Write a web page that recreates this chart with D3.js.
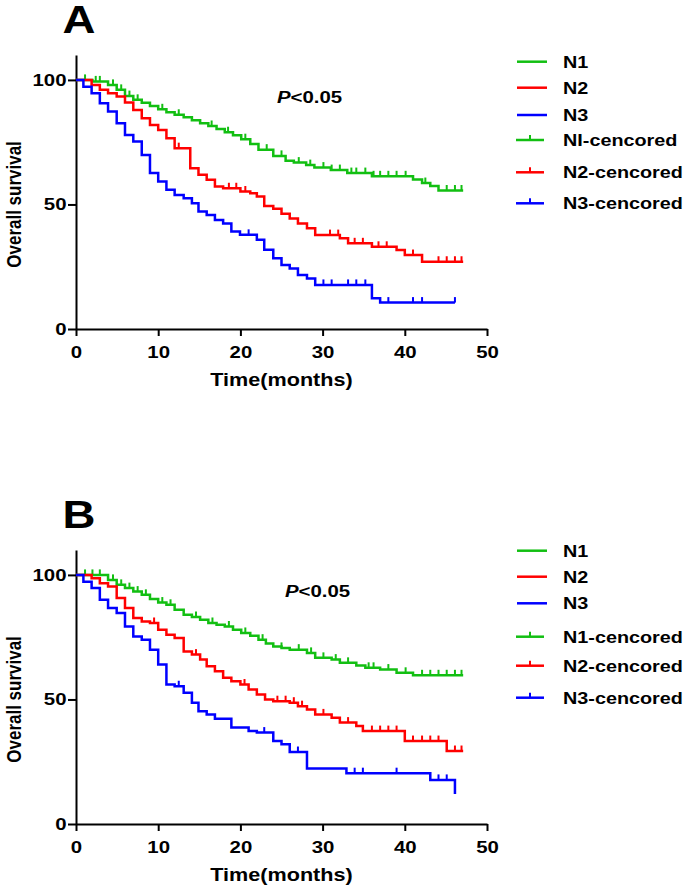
<!DOCTYPE html>
<html>
<head>
<meta charset="utf-8">
<script src="https://cdn.jsdelivr.net/npm/d3@7"></script>
<style>
  body { margin: 0; background: #fff; }
  svg { display: block; font-family: "Liberation Sans", Arial, sans-serif; font-weight: bold; }
</style>
</head>
<body>
<svg id="chart" width="685" height="891"></svg>
<script>
// 共通の設定
const colors = ["#12bf12", "#ff0000", "#0000ff"];
const xTicks = [0, 10, 20, 30, 40, 50];
const yTicks = [0, 50, 100];
const legendLabelsA = ["N1", "N2", "N3", "NI-cencored", "N2-cencored", "N3-cencored"];
const legendLabelsB = ["N1", "N2", "N3", "N1-cencored", "N2-cencored", "N3-cencored"];

// パネルA：時間(月)と生存率(%)、打ち切り時点
const timeA1 = [0, 2, 3.9, 4.95, 5.96, 6.97, 8, 9, 10, 11, 12, 13.1, 14.1, 15.1, 16.1, 17.1, 18.1, 19.1, 20.1, 21.2, 22.2, 24, 25.5, 26.5, 28, 29, 31, 33, 36, 41, 42.1, 43.1, 44.1];
const survA1 = [100, 99.4, 98, 96, 93.5, 92, 90.8, 89.5, 88.2, 87, 86, 85, 83.8, 82.6, 81.5, 80.3, 79, 77.8, 76.2, 74.3, 72, 69.5, 67.5, 66.8, 65.8, 64.8, 63.8, 62.6, 61.3, 60, 58.6, 57.4, 55.6];
const censA1 = [1.1, 2.4, 2.9, 4.5, 5.5, 6.5, 7.5, 10.5, 12.5, 16.5, 18.5, 20.6, 23.2, 25, 27.1, 28.5, 30.1, 31.1, 32.1, 33.5, 34.1, 35.2, 36.2, 37, 38, 39, 40.1, 42.5, 45.1, 46.1, 46.9];

const timeA2 = [0, 1.9, 2.9, 3.9, 4.95, 5.96, 6.97, 8, 9, 10, 11, 12, 13.9, 14.9, 15.9, 16.9, 17.9, 20, 21.2, 22, 22.9, 24, 25, 26, 27, 28.1, 29.1, 32.1, 33.1, 36, 39, 40, 42.1];
const survA2 = [100, 98, 96, 94.6, 93.3, 90.9, 87.9, 84.6, 81.9, 79.9, 76.6, 72.6, 64.5, 61.9, 59.9, 57.2, 56.5, 55.2, 54.5, 53.2, 49.4, 48.3, 46.3, 44.4, 42.4, 40.4, 37.7, 36.4, 34.4, 33, 31.7, 29.7, 27];
const censA2 = [12.5, 18.6, 19.5, 20.6, 30.9, 31.9, 33.9, 34.9, 36.8, 37.8, 41, 44.1, 45.1, 46.1, 46.9];

const timeA3 = [0, 0.9, 1.9, 2.9, 3.9, 4.95, 5.96, 6.97, 8, 9, 10, 11, 12, 13.1, 14.1, 14.9, 15.9, 16.9, 17.9, 18.9, 19.95, 22, 22.9, 24, 25, 26, 27, 28.1, 29.1, 36, 37];
const survA3 = [100, 97.3, 94.6, 90.6, 87.3, 82.6, 77.9, 75.3, 69.9, 62.6, 59.2, 55.9, 53.8, 52.5, 50.5, 47.2, 45.8, 43.8, 42.4, 39.1, 37.8, 35.8, 31.8, 28.4, 25.7, 24.3, 21.7, 20.3, 17.7, 12.3, 10.6];
const censA3 = [21, 30.1, 31.1, 33.1, 34.1, 35.2, 38, 41, 42.1, 46.1];
const endA = [47.1, 47.1, 46.1];

// パネルB
const timeB1 = [0, 3.9, 4.95, 5.96, 6.97, 8, 9, 10, 11, 12, 13.1, 14.1, 15.1, 16.1, 17.1, 18.1, 19.1, 20.1, 21.2, 22.2, 23.1, 24, 25, 26, 28.1, 29.1, 31.1, 32.1, 34.1, 35.2, 37, 39, 41];
const survB1 = [100, 98, 96, 94.7, 93.3, 92, 90.3, 88.9, 88, 86, 84, 83.1, 82, 80.7, 80, 79.3, 78, 76.7, 75.6, 74, 72.5, 71.3, 70.7, 70, 68.7, 66.7, 66, 64.7, 63.6, 62.7, 62, 60.7, 59.7];
const censB1 = [1.1, 2.0, 2.9, 4.5, 5.5, 6.5, 7.5, 8.5, 10.5, 11.5, 14.6, 16.6, 18.6, 20.6, 22.7, 25.0, 27.1, 28.6, 30.1, 31.6, 33.1, 35.6, 36.2, 38, 40.1, 42.1, 43.1, 44.1, 45.1, 46.1, 46.9];

const timeB2 = [0, 1.9, 2.9, 3.9, 4.95, 5.96, 6.97, 8, 9, 10, 11, 12, 13.1, 14.1, 15.1, 15.9, 16.9, 17.9, 18.9, 20, 21, 22, 23, 24, 26, 27, 28.1, 29.1, 31.1, 32.1, 34.1, 34.9, 40, 45.1];
const survB2 = [100, 98.7, 96.7, 95.3, 90.7, 86.7, 82.7, 81.3, 80.7, 78, 76, 74.7, 69.3, 68, 66, 63.3, 61.3, 58.7, 57.3, 56, 54, 52, 50, 49.3, 48.7, 47.3, 46, 44, 42.7, 40.7, 39.3, 37.3, 33.3, 29.3];
const censB2 = [9.5, 14.6, 20.5, 24.5, 25.5, 26.5, 27.5, 30.1, 33.1, 36, 37, 38, 39, 41, 42.1, 43.1, 44.1, 46.1, 46.9];

const timeB3 = [0, 0.9, 1.9, 2.9, 3.9, 4.95, 5.96, 6.97, 8, 9, 10, 11, 12, 13.1, 14.1, 14.9, 15.9, 16.9, 18.9, 21, 22, 24, 25, 26, 28.1, 32.9, 43.1, 46.1];
const survB3 = [100, 97.3, 94.7, 90, 86.7, 84.7, 79.3, 75.3, 74, 70, 64, 56, 55.3, 52.7, 48.7, 45.3, 44, 42.3, 38.7, 37.3, 36.7, 33.3, 32, 28.9, 22.3, 20.4, 17.7, 12];
const censB3 = [12.5, 22.9, 27.0, 33.9, 34.9, 39.0, 44.1, 45.1];
const endB = [47.1, 47.1, 46.1];

// 文字は元図に合わせて横に少し引き伸ばす
const SX = 1.2;
const svg = d3.select("#chart");

// ある時点での生存率（階段関数）
function survAt(times, surv, t) {
  let s = surv[0];
  times.forEach((tt, i) => { if (tt <= t) s = surv[i]; });
  return s;
}

function drawPanel(top, label, legendLabels, legendYs, pPos, series) {
  const g = svg.append("g");
  const x = d3.scaleLinear().domain([0, 50]).range([76, 487]);
  const y = d3.scaleLinear().domain([0, 110]).range([top + 274, top]);

  // 軸
  const xAxis = g.append("g")
    .attr("transform", `translate(0,${y(0)})`)
    .call(d3.axisBottom(x).tickValues(xTicks).tickSize(7).tickSizeOuter(0).tickPadding(10));
  const yAxis = g.append("g")
    .attr("transform", `translate(${x(0)},0)`)
    .call(d3.axisLeft(y).tickValues(yTicks).tickSize(8).tickSizeOuter(0));
  [xAxis, yAxis].forEach(a => {
    a.attr("font-family", null).attr("font-size", null);
    a.selectAll("path, line").attr("stroke", "#000").attr("stroke-width", 2);
    a.selectAll("text").attr("fill", "#000").style("font-size", "17px")
      .attr("transform", `scale(${SX},1)`);
  });
  yAxis.selectAll("text").attr("x", -9.5 / SX);

  // 軸タイトル
  g.append("text")
    .attr("transform", `translate(281.5,${y(0) + 57}) scale(${SX},1)`)
    .attr("text-anchor", "middle").style("font-size", "18px")
    .text("Time(months)");
  g.append("text")
    .attr("transform", `translate(21,${y(50)}) scale(${SX},1) rotate(-90)`)
    .attr("text-anchor", "middle").style("font-size", "17px")
    .text("Overall survival");

  // パネル記号
  g.append("text")
    .attr("transform", `translate(79,${top - 22}) scale(${SX},1)`)
    .attr("text-anchor", "middle").style("font-size", "38px")
    .text(label);

  // P値
  const pt = g.append("text")
    .attr("transform", `translate(${pPos[0]},${pPos[1]}) scale(${SX},1)`)
    .style("font-size", "17px");
  pt.append("tspan").attr("font-style", "italic").text("P");
  pt.append("tspan").text("<0.05");

  // 生存曲線（階段状）と打ち切りマーク
  const line = d3.line()
    .x(d => x(d[0]))
    .y(d => y(d[1]))
    .curve(d3.curveStepAfter);

  series.forEach((s, i) => {
    const pts = s.times.map((t, j) => [t, s.surv[j]]);
    pts.push([s.end, s.surv[s.surv.length - 1]]);
    g.append("path")
      .datum(pts)
      .attr("d", line)
      .attr("fill", "none")
      .attr("stroke", colors[i])
      .attr("stroke-width", 2.5);
    g.append("g").selectAll("line").data(s.cens)
      .enter().append("line")
      .attr("x1", d => x(d))
      .attr("x2", d => x(d))
      .attr("y1", d => y(survAt(s.times, s.surv, d)))
      .attr("y2", d => y(survAt(s.times, s.surv, d)) - 5.5)
      .attr("stroke", colors[i])
      .attr("stroke-width", 2);
  });

  // 凡例
  legendLabels.forEach((lab, i) => {
    const ly = legendYs[i];
    const censored = i >= 3;
    g.append("line")
      .attr("x1", censored ? 516 : 517).attr("x2", censored ? 544 : 547)
      .attr("y1", ly).attr("y2", ly)
      .attr("stroke", colors[i % 3]).attr("stroke-width", 2.5);
    if (censored) {
      g.append("line")
        .attr("x1", 530).attr("x2", 530)
        .attr("y1", ly).attr("y2", ly - 5)
        .attr("stroke", colors[i % 3]).attr("stroke-width", 2);
    }
    g.append("text")
      .attr("transform", `translate(563,${ly}) scale(${SX},1)`)
      .attr("dy", "0.36em").style("font-size", "16.5px")
      .text(lab);
  });
}

drawPanel(55, "A", legendLabelsA, [61.7, 87.7, 115, 140, 172.3, 203.3], [277, 103], [
  { times: timeA1, surv: survA1, cens: censA1, end: endA[0] },
  { times: timeA2, surv: survA2, cens: censA2, end: endA[1] },
  { times: timeA3, surv: survA3, cens: censA3, end: endA[2] }
]);

drawPanel(550, "B", legendLabelsB, [550.7, 576.7, 603.3, 636.7, 665.7, 697.7], [285, 597], [
  { times: timeB1, surv: survB1, cens: censB1, end: endB[0] },
  { times: timeB2, surv: survB2, cens: censB2, end: endB[1] },
  { times: timeB3, surv: survB3, cens: censB3, end: endB[2] }
]);
</script>
</body>
</html>
